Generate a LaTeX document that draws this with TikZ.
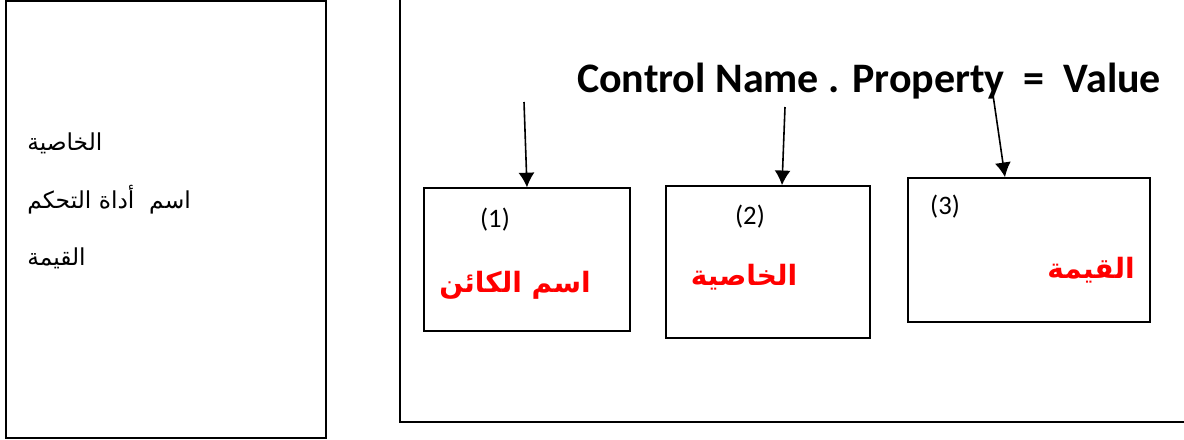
\documentclass[tikz,border=0pt]{standalone}
\usepackage{fontspec}
\setmainfont{Carlito}
\newfontfamily\arabicfont[Script=Arabic]{DejaVu Sans}
\TeXXeTstate=1
\usetikzlibrary{arrows.meta}
\tikzset{
  box/.style={draw,line width=1.2pt,minimum width=#1},
  sidelabel/.style={font=\arabicfont\fontsize{17.5}{20}\selectfont,anchor=west,inner sep=0pt},
  redlabel/.style={text=red,font=\arabicfont\bfseries\fontsize{21}{25}\selectfont,inner sep=0pt},
  num/.style={font=\fontsize{20}{24}\selectfont,inner sep=0pt},
  arr/.style={line width=1.2pt,-{Latex[length=11pt,width=12pt]}}
}
\begin{document}
\begin{tikzpicture}[x=0.75pt,y=-0.75pt]
  \useasboundingbox (0,0) rectangle (1184,439);
  % left panel
  \node[box=240pt,minimum height=327.75pt] (side) at (166,219.5) {};
  \node[sidelabel] (s1) at (27,143) {\beginR الخاصية\endR};
  \node[sidelabel] (s2) at (27,200) {\beginR اسم\ \ أداة التحكم\endR};
  \node[sidelabel] (s3) at (27,258) {\beginR القيمة\endR};
  % main panel
  \draw[line width=1.2pt] (400,-20) -- (400,422) -- (1220,422);
  \node[anchor=base,font=\bfseries\fontsize{31.5}{36}\selectfont,inner sep=0pt] (title) at (869,92)
    {Control Name . Property\ \ =\ \ Value};
  \node[box=154.5pt,minimum height=107pt] (b1) at (527,259.5) {};
  \node[box=153pt,minimum height=114pt] (b2) at (768,262) {};
  \node[box=181.5pt,minimum height=108pt] (b3) at (1029,250) {};
  \node[num] (n1) at (495,220) {(1)};
  \node[num] (n2) at (750,217) {(2)};
  \node[num] (n3) at (945,207) {(3)};
  \node[redlabel] (r1) at (515,285) {\beginR اسم الكائن\endR};
  \node[redlabel] (r2) at (744,277) {\beginR الخاصية\endR};
  \node[redlabel] (r3) at (1091,270) {\beginR القيمة\endR};
  \coordinate (a1) at (524,102);
  \coordinate (a2) at (785,107);
  \coordinate (a3) at (992,88);
  \draw[arr] (a1) -- (b1.north);
  \draw[arr] (a2) -- ([xshift=10.5pt]b2.north);
  \draw[arr] (a3) -- ([xshift=-18pt]b3.north);
\end{tikzpicture}
\end{document}
